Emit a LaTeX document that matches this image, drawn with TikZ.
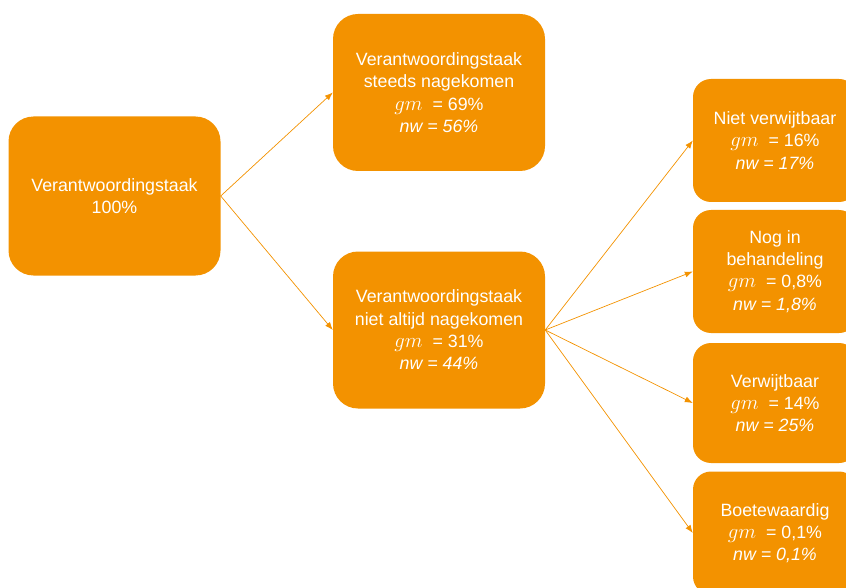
\documentclass[tikz,border=0pt]{standalone}
\usepackage{fontspec}
\setmainfont{Liberation Sans}
\usetikzlibrary{arrows.meta}
\definecolor{oranje}{HTML}{F39200}

\begin{document}
\begin{tikzpicture}[x=1pt, y=-1pt,
  blok/.style={fill=oranje, text=white, align=center, inner sep=0pt,
    font=\fontsize{17.8}{22.3}\selectfont},
  groot/.style={blok, rounded corners=25pt, minimum width=212pt, minimum height=157pt},
  klein/.style={blok, rounded corners=18pt, minimum width=164pt, minimum height=123pt},
  pijl/.style={draw=oranje, line width=0.7pt, -{Latex[length=8pt, width=6pt]}}]
% Set the canvas size
\clip (0,0) rectangle (846,588);
\def\gm{{\fontsize{20.74}{22.3}\selectfont$gm$}\ \ =}

% The three big boxes
\node[groot, minimum height=159pt] (taak) at (114.5, 196) {Verantwoordingstaak\\100\%};
\node[groot] (steeds) at (439, 92.5) {Verantwoordingstaak\\steeds nagekomen\\\gm{} 69\%\\\textit{nw = 56\%}};
\node[groot] (niet) at (439, 330) {Verantwoordingstaak\\niet altijd nagekomen\\\gm{} 31\%\\\textit{nw = 44\%}};

% The four small boxes on the right
\node[klein] (nietverw) at (775, 140.5) {Niet verwijtbaar\\\gm{} 16\%\\\textit{nw = 17\%}};
\node[klein] (behandel) at (775, 271.5) {Nog in\\behandeling\\\gm{} 0,8\%\\\textit{nw = 1,8\%}};
\node[klein, minimum height=120pt] (verw) at (775, 403) {Verwijtbaar\\\gm{} 14\%\\\textit{nw = 25\%}};
\node[klein] (boete) at (775, 533) {Boetewaardig\\\gm{} 0,1\%\\\textit{nw = 0,1\%}};

% Arrows
\draw[pijl] (taak.east) -- (steeds.west);
\draw[pijl] (taak.east) -- (niet.west);
\draw[pijl] (niet.east) -- (nietverw.west);
\draw[pijl] (niet.east) -- (behandel.west);
\draw[pijl] (niet.east) -- (verw.west);
\draw[pijl] (niet.east) -- (boete.west);
\end{tikzpicture}
\end{document}
